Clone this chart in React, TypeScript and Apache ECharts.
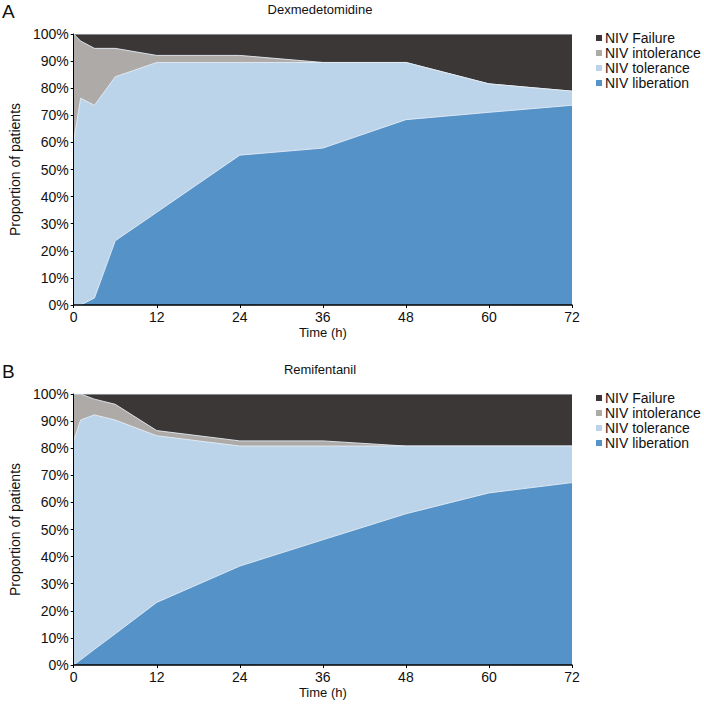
import React, { useEffect, useRef } from "react";
import * as echarts from "echarts";

const hours = [0, 1, 3, 6, 12, 24, 36, 48, 60, 72];
const seriesNames = ["NIV liberation", "NIV tolerance", "NIV intolerance", "NIV Failure"];
const legendOrder = ["NIV Failure", "NIV intolerance", "NIV tolerance", "NIV liberation"];
const colors = ["#5592c8", "#bcd4ea", "#aeaaa8", "#3b3737"];

// Dexmedetomidine (%)
const dexLiberation = [0, 0, 2.6, 23.7, 34.2, 55.3, 57.9, 68.4, 71.1, 73.7];
const dexTolerance = [60.5, 76.3, 71.1, 60.5, 55.3, 34.2, 31.6, 21.1, 10.5, 5.2];
const dexIntolerance = [39.5, 21.1, 21.0, 10.5, 2.6, 2.6, 0, 0, 0, 0];
const dexFailure = [0, 2.6, 5.3, 5.3, 7.9, 7.9, 10.5, 10.5, 18.4, 21.1];

// Remifentanil (%)
const remLiberation = [0, 1.9, 5.8, 11.5, 23.1, 36.5, 46.2, 55.8, 63.5, 67.3];
const remTolerance = [82.7, 88.5, 86.5, 78.9, 61.5, 44.3, 34.6, 25.0, 17.3, 13.5];
const remIntolerance = [17.3, 9.6, 5.8, 5.8, 1.9, 1.9, 1.9, 0, 0, 0];
const remFailure = [0, 0, 1.9, 3.8, 13.5, 17.3, 17.3, 19.2, 19.2, 19.2];

const panels = [
  { title: "Dexmedetomidine", label: "A", values: [dexLiberation, dexTolerance, dexIntolerance, dexFailure] },
  { title: "Remifentanil", label: "B", values: [remLiberation, remTolerance, remIntolerance, remFailure] },
];

const FONT = "Liberation Sans, Arial, Helvetica, sans-serif";

export default function App() {
  const ref = useRef<HTMLDivElement>(null);
  useEffect(() => {
    document.body.style.margin = "0";
    if (!ref.current) return;
    const chart = echarts.init(ref.current, null, { renderer: "svg" });
    const gridTops = [34, 394];
    const gridH = 271;
    const grids = gridTops.map((t) => ({ left: 68, top: t, width: 504, height: gridH }));
    const xAxes = gridTops.map((_, i) => ({
      type: "value",
      gridIndex: i,
      min: 0,
      max: 72,
      interval: 12,
      name: "Time (h)",
      nameLocation: "middle",
      nameGap: 21,
      nameTextStyle: { color: "#111", fontSize: 13, fontFamily: FONT },
      axisLine: { show: true, onZero: false, lineStyle: { color: "#000", width: 1.5 } },
      axisTick: { show: true, length: 3, lineStyle: { color: "#000" } },
      axisLabel: { color: "#111", fontSize: 14, fontFamily: FONT, margin: 5 },
      splitLine: { show: false },
      z: 10,
    }));
    const yAxes = gridTops.map((_, i) => ({
      type: "value",
      gridIndex: i,
      min: 0,
      max: 100,
      interval: 10,
      name: "Proportion of patients",
      nameLocation: "middle",
      nameGap: 46,
      nameTextStyle: { color: "#111", fontSize: 14, fontFamily: FONT },
      axisLine: { show: true, lineStyle: { color: "#000", width: 1 } },
      axisTick: { show: true, length: 3, lineStyle: { color: "#000" } },
      axisLabel: { color: "#111", fontSize: 14, fontFamily: FONT, margin: 5, formatter: "{value}%" },
      splitLine: { show: false },
      z: 10,
    }));
    const series: any[] = [];
    panels.forEach((p, pi) => {
      // cumulative tops, drawn from the largest (bottom layer) to the smallest (top layer)
      const cum: number[][] = [];
      seriesNames.forEach((_, si) => {
        cum.push(
          hours.map((_, k) => {
            let s = 0;
            for (let j = 0; j <= si; j++) s += p.values[j][k];
            return Math.round(s * 10) / 10;
          })
        );
      });
      seriesNames.forEach((name, si) => {
        series.push({
          type: "line",
          name,
          xAxisIndex: pi,
          yAxisIndex: pi,
          symbol: "none",
          data: hours.map((h, k) => [h, cum[si][k]]),
          lineStyle: { width: 1, color: "#e4ecf4", opacity: 0.9 },
          areaStyle: { color: colors[si], opacity: 1, origin: "start" },
          itemStyle: { color: colors[si] },
          z: 2 + (seriesNames.length - si),
        });
      });
    });
    const option: any = {
      animation: false,
      textStyle: { fontFamily: FONT },
      title: panels.map((p, i) => ({
        text: p.title,
        left: 320,
        textAlign: "center",
        top: gridTops[i] - 31.5,
        padding: 0,
        textStyle: { fontSize: 13, fontWeight: "normal", color: "#111", fontFamily: FONT },
      })),
      legend: gridTops.map((t) => ({
        orient: "vertical",
        left: 591,
        top: t - 8,
        data: legendOrder,
        icon: "rect",
        itemWidth: 6,
        itemHeight: 6,
        itemGap: 1,
        selectedMode: false,
        textStyle: { fontSize: 14, color: "#111", fontFamily: FONT, padding: [0, 0, 0, -2], lineHeight: 14 },
      })),
      grid: grids,
      xAxis: xAxes,
      yAxis: yAxes,
      series,
      graphic: panels.map((p, i) => ({
        type: "text",
        left: 2,
        top: gridTops[i] - 32,
        style: { text: p.label, fontSize: 19, fill: "#111", fontFamily: FONT },
      })),
    };
    chart.setOption(option);
    return () => chart.dispose();
  }, []);
  return <div ref={ref} style={{ width: 704, height: 712 }} />;
}
